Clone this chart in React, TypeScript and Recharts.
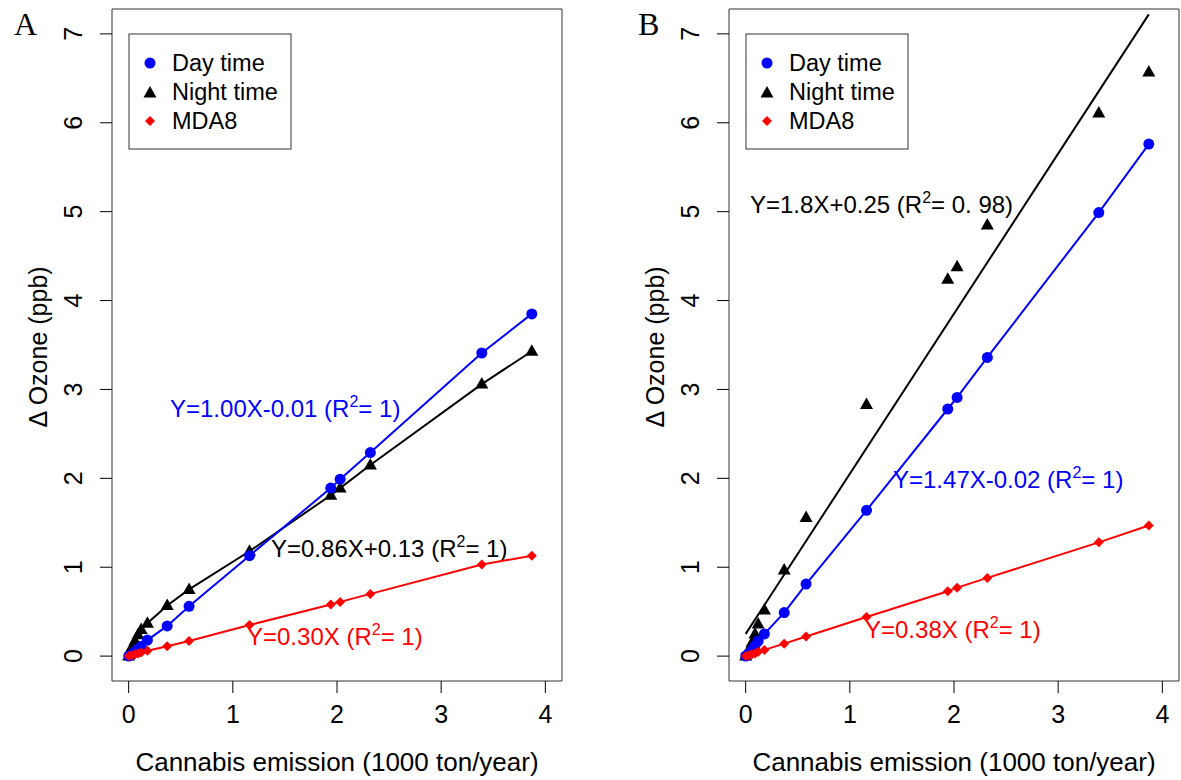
import React from "react";
import { ScatterChart, Scatter, XAxis, YAxis, ReferenceArea, Customized } from "recharts";

// emission values shared by both panels (1000 ton/year)
const emission = [0, 0.03, 0.06, 0.09, 0.12, 0.18, 0.37, 0.58, 1.16, 1.94, 2.03, 2.32, 3.39, 3.87];

// panel A
const dayA = [0, 0.02, 0.05, 0.08, 0.11, 0.18, 0.34, 0.56, 1.13, 1.89, 1.99, 2.29, 3.41, 3.85];
const nightA = [0, 0.1, 0.17, 0.24, 0.3, 0.37, 0.57, 0.75, 1.18, 1.81, 1.89, 2.15, 3.06, 3.43];
const mdaA = [0, 0.01, 0.02, 0.03, 0.04, 0.06, 0.11, 0.17, 0.35, 0.58, 0.61, 0.7, 1.03, 1.13];

// panel B
const dayB = [0, 0.03, 0.07, 0.12, 0.17, 0.25, 0.49, 0.81, 1.64, 2.78, 2.91, 3.36, 4.99, 5.76];
const nightB = [0, 0.07, 0.15, 0.25, 0.36, 0.52, 0.97, 1.56, 2.83, 4.24, 4.38, 4.85, 6.11, 6.57];
const mdaB = [0, 0.01, 0.02, 0.03, 0.05, 0.07, 0.14, 0.22, 0.44, 0.73, 0.77, 0.88, 1.28, 1.47];

// fitted night-time line in panel B (end points)
const fitX = [0, 3.87];
const fitY = [0.25, 7.22];

const xTicks = [0, 1, 2, 3, 4];
const yTicks = [0, 1, 2, 3, 4, 5, 6, 7];

const FONT = "'Liberation Sans', Arial, Helvetica, sans-serif";
const BLUE = "#0000ff";
const RED = "#ff0000";

const toPoints = (xs: number[], ys: number[]) => xs.map((x, i) => ({ x, y: ys[i] }));

const Dot = (p: any) => <circle cx={p.cx} cy={p.cy} r={5.5} fill={BLUE} />;
const Tri = (p: any) => (
  <polygon
    points={`${p.cx},${p.cy - 7} ${p.cx - 6.5},${p.cy + 4.5} ${p.cx + 6.5},${p.cy + 4.5}`}
    fill="#000"
  />
);
const Diamond = (p: any) => (
  <polygon
    points={`${p.cx},${p.cy - 5} ${p.cx + 5},${p.cy} ${p.cx},${p.cy + 5} ${p.cx - 5},${p.cy}`}
    fill={RED}
  />
);
const Nothing = () => <g />;

const XTick = ({ x, payload }: any) => (
  <text x={x} y={723} textAnchor="middle" fontSize={25} fontFamily={FONT} fill="#000">
    {payload.value}
  </text>
);

const YTick = ({ y, payload }: any) => (
  <text
    x={82}
    y={y}
    transform={`rotate(-90 82 ${y})`}
    textAnchor="middle"
    fontSize={25}
    fontFamily={FONT}
    fill="#000"
  >
    {payload.value}
  </text>
);

interface Note {
  x: number;
  y: number;
  color: string;
  head: string;
  tail: string;
}

const Fit = ({ n }: { n: Note }) => (
  <text x={n.x} y={n.y} fontSize={24} fontFamily={FONT} fill={n.color}>
    {n.head}
    <tspan dy={-10} fontSize={16}>2</tspan>
    <tspan dy={10}>{n.tail}</tspan>
  </text>
);

const Extras = ({ letter, letterX, notes }: { letter: string; letterX: number; notes: Note[] }) => (
  <g>
    <text x={letterX} y={35} fontSize={32} fontFamily="'Liberation Serif', 'Times New Roman', serif">
      {letter}
    </text>
    <text
      x={47}
      y={347}
      transform="rotate(-90 47 347)"
      textAnchor="middle"
      fontSize={25}
      fontFamily={FONT}
    >
      Δ Ozone (ppb)
    </text>
    <text x={337} y={771} textAnchor="middle" fontSize={26} fontFamily={FONT}>
      Cannabis emission (1000 ton/year)
    </text>
    <rect x={129} y={34} width={162} height={115} fill="#fff" stroke="#333" />
    <circle cx={150} cy={63} r={5.5} fill={BLUE} />
    <Tri cx={150} cy={93} />
    <Diamond cx={150} cy={121} />
    <g fontSize={23.5} fontFamily={FONT}>
      <text x={172} y={71}>Day time</text>
      <text x={172} y={100}>Night time</text>
      <text x={172} y={129}>MDA8</text>
    </g>
    {notes.map((n, i) => (
      <Fit key={i} n={n} />
    ))}
  </g>
);

interface PanelProps {
  left: number;
  letter: string;
  letterX: number;
  day: number[];
  night: number[];
  mda: number[];
  fit: boolean;
  notes: Note[];
}

function Panel({ left, letter, letterX, day, night, mda, fit, notes }: PanelProps) {
  return (
    <div style={{ position: "absolute", left, top: 0 }}>
      <ScatterChart width={564} height={780} margin={{ top: 9, right: 2, bottom: 39, left: 52 }}>
        <XAxis
          type="number"
          dataKey="x"
          domain={[-0.16, 4.16]}
          ticks={xTicks}
          allowDataOverflow
          height={60}
          axisLine={false}
          tickSize={12}
          tickLine={{ stroke: "#000" }}
          tick={<XTick />}
        />
        <YAxis
          type="number"
          dataKey="y"
          domain={[-0.28, 7.28]}
          ticks={yTicks}
          allowDataOverflow
          width={60}
          axisLine={false}
          tickSize={12}
          tickLine={{ stroke: "#000" }}
          tick={<YTick />}
        />
        <ReferenceArea x1={-0.16} x2={4.16} y1={-0.28} y2={7.28} fill="none" stroke="#333" strokeWidth={1} />
        {fit ? (
          <Scatter
            data={toPoints(fitX, fitY)}
            shape={<Nothing />}
            line={{ stroke: "#000", strokeWidth: 2 }}
            lineType="joint"
            isAnimationActive={false}
          />
        ) : null}
        <Scatter
          data={toPoints(emission, night)}
          shape={<Tri />}
          fill="#000"
          line={fit ? false : { stroke: "#000", strokeWidth: 2 }}
          lineType="joint"
          isAnimationActive={false}
        />
        <Scatter
          data={toPoints(emission, day)}
          shape={<Dot />}
          fill={BLUE}
          line={{ stroke: BLUE, strokeWidth: 2 }}
          lineType="joint"
          isAnimationActive={false}
        />
        <Scatter
          data={toPoints(emission, mda)}
          shape={<Diamond />}
          fill={RED}
          line={{ stroke: RED, strokeWidth: 2 }}
          lineType="joint"
          isAnimationActive={false}
        />
        <Customized component={<Extras letter={letter} letterX={letterX} notes={notes} />} />
      </ScatterChart>
    </div>
  );
}

const notesA: Note[] = [
  { x: 170, y: 417, color: BLUE, head: "Y=1.00X-0.01 (R", tail: "= 1)" },
  { x: 271, y: 557, color: "#000", head: "Y=0.86X+0.13 (R", tail: "= 1)" },
  { x: 247, y: 645, color: RED, head: "Y=0.30X (R", tail: "= 1)" },
];

const notesB: Note[] = [
  { x: 133, y: 213, color: "#000", head: "Y=1.8X+0.25 (R", tail: "= 0. 98)" },
  { x: 276, y: 488, color: BLUE, head: "Y=1.47X-0.02 (R", tail: "= 1)" },
  { x: 248, y: 638, color: RED, head: "Y=0.38X (R", tail: "= 1)" },
];

export default function App() {
  return (
    <div style={{ position: "absolute", left: 0, top: 0, width: 1181, height: 780, background: "#fff" }}>
      <Panel left={0} letter="A" letterX={14} day={dayA} night={nightA} mda={mdaA} fit={false} notes={notesA} />
      <Panel left={617} letter="B" letterX={21} day={dayB} night={nightB} mda={mdaB} fit={true} notes={notesB} />
    </div>
  );
}
